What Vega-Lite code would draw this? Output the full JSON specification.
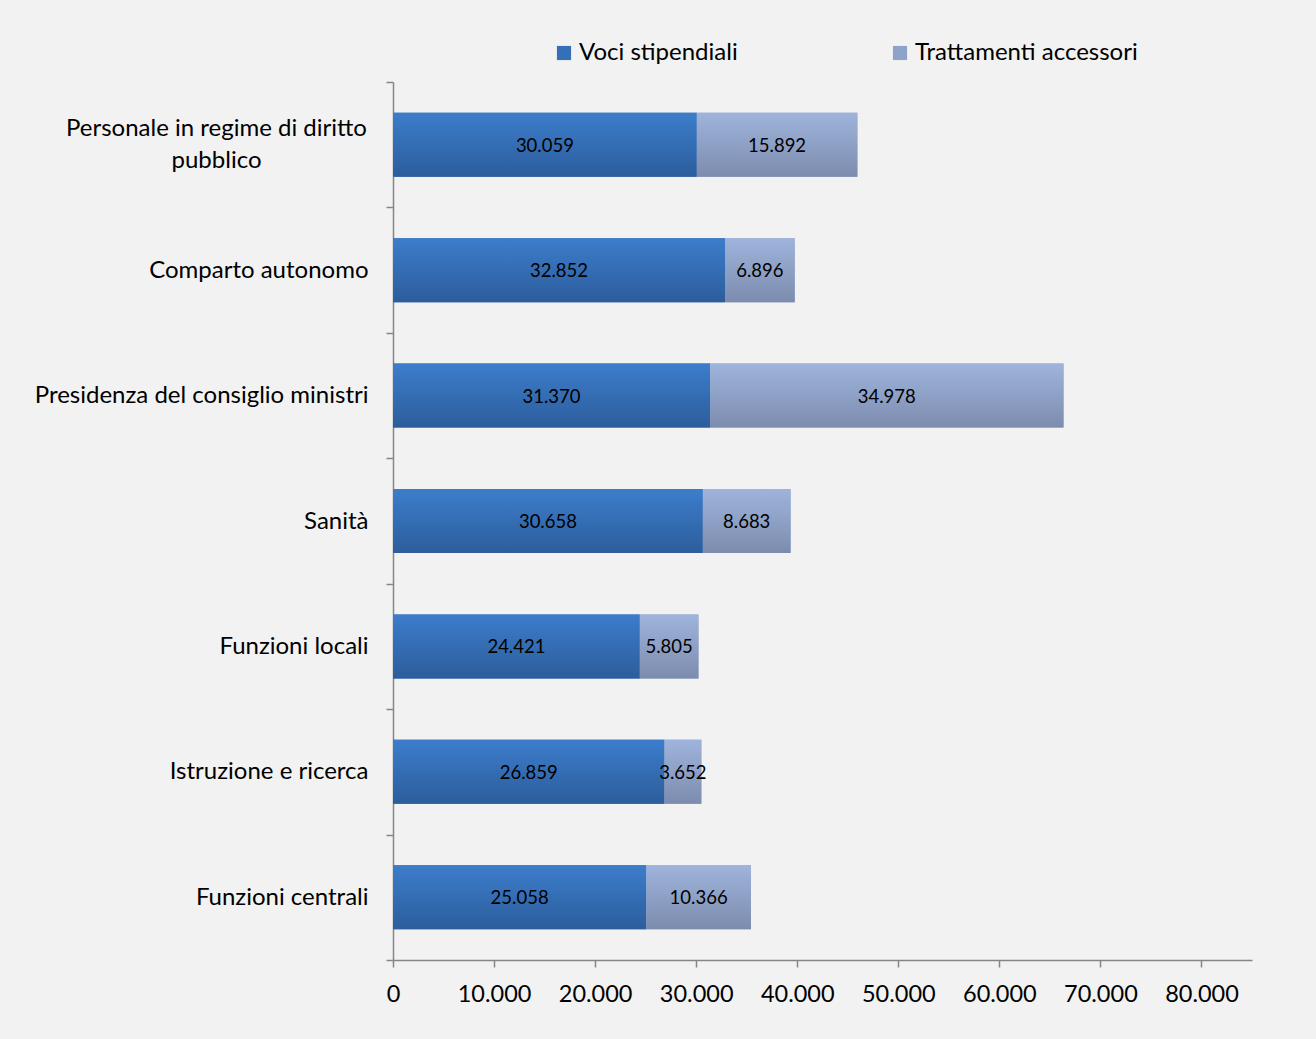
{
  "$schema": "https://vega.github.io/schema/vega-lite/v6.json",
  "width": 859,
  "height": 878,
  "autosize": {"type": "none"},
  "padding": {"left": 393, "top": 82, "right": 64, "bottom": 79},
  "background": "#f2f2f2",
  "config": {
    "view": {"stroke": null},
    "font": "Lato",
    "locale": {"number": {"decimal": ",", "thousands": ".", "grouping": [3], "currency": ["€", ""]}}
  },
  "data": {
    "values": [
      {"categoria": "Personale in regime di diritto pubblico", "serie": "Voci stipendiali", "ord": 1, "valore": 30059},
      {"categoria": "Personale in regime di diritto pubblico", "serie": "Trattamenti accessori", "ord": 2, "valore": 15892},
      {"categoria": "Comparto autonomo", "serie": "Voci stipendiali", "ord": 1, "valore": 32852},
      {"categoria": "Comparto autonomo", "serie": "Trattamenti accessori", "ord": 2, "valore": 6896},
      {"categoria": "Presidenza del consiglio ministri", "serie": "Voci stipendiali", "ord": 1, "valore": 31370},
      {"categoria": "Presidenza del consiglio ministri", "serie": "Trattamenti accessori", "ord": 2, "valore": 34978},
      {"categoria": "Sanità", "serie": "Voci stipendiali", "ord": 1, "valore": 30658},
      {"categoria": "Sanità", "serie": "Trattamenti accessori", "ord": 2, "valore": 8683},
      {"categoria": "Funzioni locali", "serie": "Voci stipendiali", "ord": 1, "valore": 24421},
      {"categoria": "Funzioni locali", "serie": "Trattamenti accessori", "ord": 2, "valore": 5805},
      {"categoria": "Istruzione e ricerca", "serie": "Voci stipendiali", "ord": 1, "valore": 26859},
      {"categoria": "Istruzione e ricerca", "serie": "Trattamenti accessori", "ord": 2, "valore": 3652},
      {"categoria": "Funzioni centrali", "serie": "Voci stipendiali", "ord": 1, "valore": 25058},
      {"categoria": "Funzioni centrali", "serie": "Trattamenti accessori", "ord": 2, "valore": 10366}
    ]
  },
  "encoding": {
    "y": {
      "field": "categoria",
      "type": "nominal",
      "sort": ["Personale in regime di diritto pubblico", "Comparto autonomo", "Presidenza del consiglio ministri", "Sanità", "Funzioni locali", "Istruzione e ricerca", "Funzioni centrali"],
      "scale": {"paddingInner": 0, "paddingOuter": 0},
      "axis": {
        "title": null,
        "domainColor": "#868686",
        "domainWidth": 1.5,
        "tickColor": "#868686",
        "tickWidth": 1.5,
        "tickSize": 7,
        "tickBand": "extent",
        "labelFont": "Lato",
        "labelFontSize": 24,
        "labelColor": "#000000",
        "labelLineHeight": 32,
        "labelOffset": {"condition": {"test": "datum.value == 'Personale in regime di diritto pubblico'", "value": -16}, "value": 0},
        "labelPadding": {"condition": {"test": "datum.value == 'Personale in regime di diritto pubblico'", "value": 170}, "value": 18},
        "labelAlign": {"condition": {"test": "datum.value == 'Personale in regime di diritto pubblico'", "value": "center"}, "value": "right"},
        "labelExpr": "datum.label == 'Personale in regime di diritto pubblico' ? ['Personale in regime di diritto', 'pubblico'] : datum.label",
        "labelLimit": 400
      }
    }
  },
  "layer": [
    {
      "mark": {"type": "bar", "height": {"band": 0.51}},
      "encoding": {
        "x": {
          "field": "valore",
          "type": "quantitative",
          "stack": "zero",
          "scale": {"domain": [0, 85000], "nice": false},
          "axis": {
            "title": null,
            "values": [0, 10000, 20000, 30000, 40000, 50000, 60000, 70000, 80000],
            "format": ",d",
            "grid": false,
            "domainColor": "#868686",
            "domainWidth": 1.5,
            "tickColor": "#868686",
            "tickWidth": 1.5,
            "tickSize": 7,
            "labelFont": "Lato",
            "labelFontSize": 23.5,
            "labelColor": "#000000",
            "labelPadding": 15,
            "labelFlush": false
          }
        },
        "color": {
          "field": "serie",
          "type": "nominal",
          "sort": ["Voci stipendiali", "Trattamenti accessori"],
          "scale": {"domain": ["Voci stipendiali", "Trattamenti accessori"], "range": ["#356fb7", "#8fa2c8"]},
          "legend": {
            "title": null,
            "orient": "none",
            "direction": "horizontal",
            "legendX": 159,
            "legendY": -41,
            "symbolType": "square",
            "symbolSize": 200,
            "symbolStrokeWidth": 0,
            "labelFont": "Lato",
            "labelFontSize": 24,
            "labelColor": "#000000",
            "labelOffset": 3,
            "labelLimit": 400,
            "columnPadding": 150
          }
        },
        "order": {"field": "ord", "type": "quantitative"}
      }
    },
    {
      "mark": {"type": "bar", "height": {"band": 0.51}},
      "encoding": {
        "x": {"field": "valore", "type": "quantitative", "stack": "zero"},
        "detail": {"field": "serie"},
        "color": {
          "condition": {
            "test": "datum.serie == 'Voci stipendiali'",
            "value": {"gradient": "linear", "x1": 0, "y1": 0, "x2": 0, "y2": 1, "stops": [{"offset": 0, "color": "#3c7dcb"}, {"offset": 1, "color": "#2c5d9c"}]}
          },
          "value": {"gradient": "linear", "x1": 0, "y1": 0, "x2": 0, "y2": 1, "stops": [{"offset": 0, "color": "#9fb4dc"}, {"offset": 1, "color": "#7c8cae"}]}
        },
        "order": {"field": "ord", "type": "quantitative"}
      }
    },
    {
      "mark": {"type": "text", "fontSize": 18.5, "font": "Lato", "color": "#000000", "align": "center", "baseline": "middle", "dy": 1},
      "encoding": {
        "x": {"field": "valore", "type": "quantitative", "stack": "zero", "bandPosition": 0.5},
        "detail": {"field": "serie"},
        "text": {"field": "valore", "type": "quantitative", "format": ",d"},
        "order": {"field": "ord", "type": "quantitative"}
      }
    }
  ]
}
